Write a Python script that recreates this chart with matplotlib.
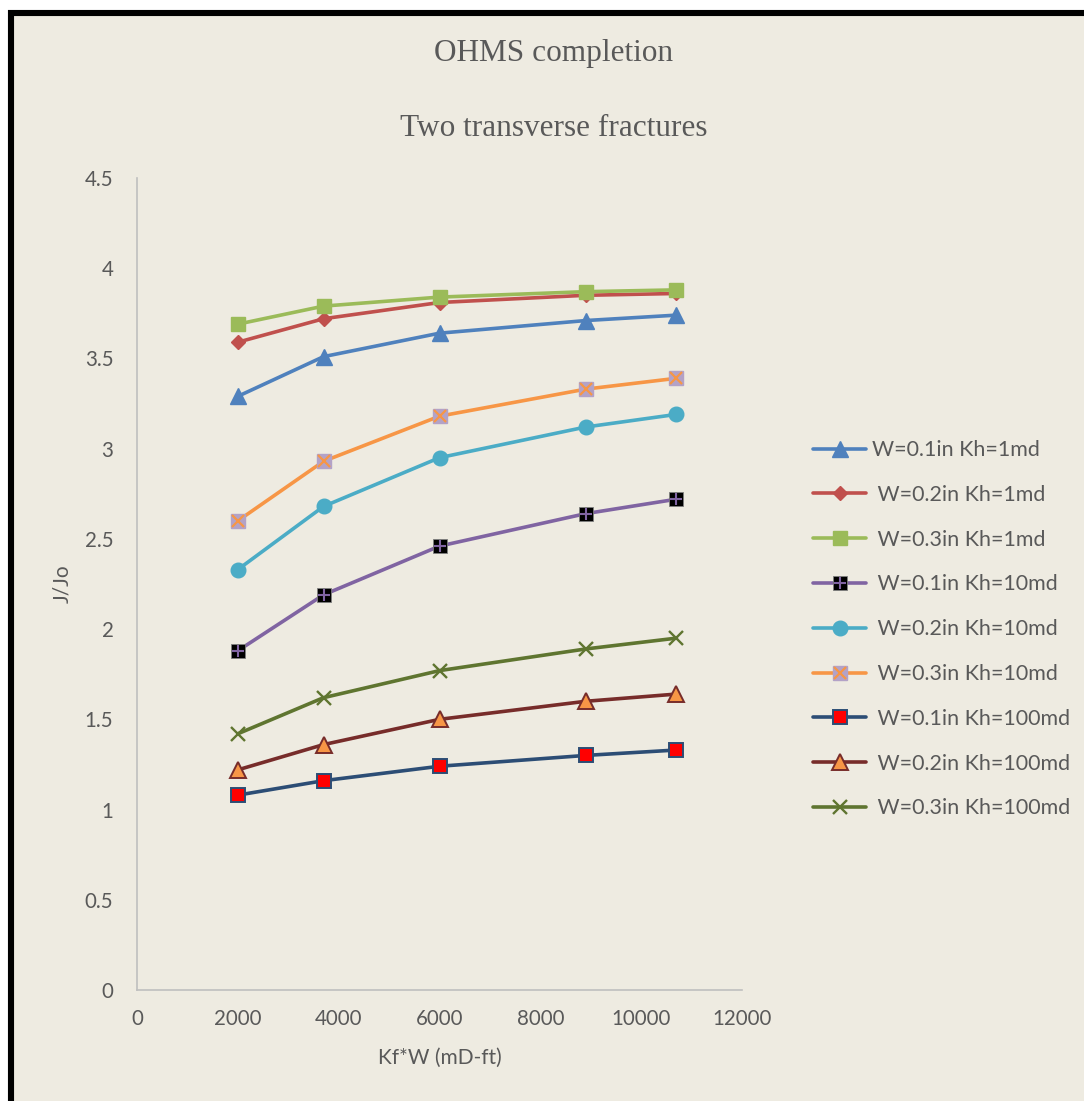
import matplotlib
matplotlib.use("Agg")
import matplotlib.pyplot as plt
from matplotlib.patches import Rectangle
from matplotlib.legend_handler import HandlerTuple

# Fracture conductivity Kf*W (mD-ft)
kfw = [2000, 3700, 6000, 8900, 10700]

# Productivity ratio J/Jo for each width / reservoir permeability case
j_w01_kh1 = [3.29, 3.51, 3.64, 3.71, 3.74]
j_w02_kh1 = [3.59, 3.72, 3.81, 3.85, 3.86]
j_w03_kh1 = [3.69, 3.79, 3.84, 3.87, 3.88]
j_w01_kh10 = [1.88, 2.19, 2.46, 2.64, 2.72]
j_w02_kh10 = [2.33, 2.68, 2.95, 3.12, 3.19]
j_w03_kh10 = [2.60, 2.93, 3.18, 3.33, 3.39]
j_w01_kh100 = [1.08, 1.16, 1.24, 1.30, 1.33]
j_w02_kh100 = [1.22, 1.36, 1.50, 1.60, 1.64]
j_w03_kh100 = [1.42, 1.62, 1.77, 1.89, 1.95]

series_labels = [
    "W=0.1in Kh=1md", " W=0.2in Kh=1md", " W=0.3in Kh=1md",
    " W=0.1in Kh=10md", " W=0.2in Kh=10md", " W=0.3in Kh=10md",
    " W=0.1in Kh=100md", " W=0.2in Kh=100md", " W=0.3in Kh=100md",
]
y_ticks = [0, 0.5, 1, 1.5, 2, 2.5, 3, 3.5, 4, 4.5]
y_tick_labels = ["0", "0.5", "1", "1.5", "2", "2.5", "3", "3.5", "4", "4.5"]
x_ticks = [0, 2000, 4000, 6000, 8000, 10000, 12000]
x_tick_labels = ["0", "2000", "4000", "6000", "8000", "10000", "12000"]

BG = "#EEEBE1"
TXT = "#595959"
W, H = 1084, 1101

fig = plt.figure(figsize=(W / 100, H / 100), dpi=100, facecolor="white")
fig.add_artist(Rectangle((11 / W, -0.1), 1.2, (1 - 13 / H) + 0.1,
                         transform=fig.transFigure, facecolor=BG,
                         edgecolor="black", linewidth=4.4, zorder=0))

ax = fig.add_axes([137 / W, 1 - 990 / H, (742 - 137) / W, (990 - 178) / H])
ax.set_facecolor("none")

lw = 2.6
handles = []

def series(y, color, marker, ms, mfc, mec, mew=1.0, zo=3):
    ln, = ax.plot(kfw, y, color=color, lw=lw, marker=marker, ms=ms,
                  mfc=mfc, mec=mec, mew=mew, zorder=zo, solid_capstyle="round")
    return ln

def overlay(y, marker, ms, color, mew, zo):
    ln, = ax.plot(kfw, y, ls="none", marker=marker, ms=ms, mfc="none",
                  mec=color, mew=mew, zorder=zo)
    return ln

handles.append(series(j_w01_kh1, "#4F81BD", "^", 11.0, "#4F81BD", "#4F81BD", zo=3))
handles.append(series(j_w02_kh1, "#C0504D", "D", 7.5, "#C0504D", "#C0504D", zo=4))
handles.append(series(j_w03_kh1, "#9BBB59", "s", 10.5, "#9BBB59", "#9BBB59", zo=5))

h4 = series(j_w01_kh10, "#8064A2", "s", 10.0, "black", "#7F7F7F", mew=0.6, zo=6)
h4b = overlay(j_w01_kh10, "+", 8.5, "#8064A2", 1.5, 6.1)
handles.append((h4, h4b))

handles.append(series(j_w02_kh10, "#4BACC6", "o", 10.5, "#4BACC6", "#4BACC6", zo=7))

h6 = series(j_w03_kh10, "#F79646", "s", 10.0, "#B3A2C7", "#B3A2C7", zo=8)
h6b = overlay(j_w03_kh10, "x", 9.0, "#F79646", 1.6, 8.1)
handles.append((h6, h6b))

handles.append(series(j_w01_kh100, "#2C4D75", "s", 10.0, "#FF0000", "#2C4D75", mew=1.4, zo=9))
handles.append(series(j_w02_kh100, "#772C2A", "^", 11.0, "#F79646", "#772C2A", mew=1.4, zo=10))
handles.append(series(j_w03_kh100, "#5F7530", "x", 10.0, "#5F7530", "#5F7530", mew=1.7, zo=11))

ax.set_xlim(0, 12000)
ax.set_ylim(0, 4.5)
ax.set_xticks(x_ticks)
ax.set_xticklabels(x_tick_labels)
ax.set_yticks(y_ticks)
ax.set_yticklabels(y_tick_labels)

font = ["Lato", "DejaVu Sans"]
for lab in ax.get_xticklabels() + ax.get_yticklabels():
    lab.set_family(font)
    lab.set_fontsize(14.8)
    lab.set_color(TXT)
ax.tick_params(axis="both", length=0)
ax.tick_params(axis="x", pad=14)
ax.tick_params(axis="y", pad=17)

for side in ("top", "right"):
    ax.spines[side].set_visible(False)
for side in ("left", "bottom"):
    ax.spines[side].set_color("#BFBFBF")
    ax.spines[side].set_linewidth(1.2)

fig.text(440 / W, 1 - 1058 / H, "Kf*W (mD-ft)", ha="center", va="center",
         family=font, fontsize=15, color=TXT)
fig.text(62 / W, 1 - 584 / H, "J/Jo", ha="center", va="center", rotation=90,
         family=font, fontsize=15, color=TXT)

fig.text(554 / W, 1 - 54 / H, "OHMS completion", ha="center", va="center",
         family=["Liberation Serif"], fontsize=22.5, color=TXT)
fig.text(554 / W, 1 - 129 / H, "Two transverse fractures", ha="center", va="center",
         family=["Liberation Serif"], fontsize=22.5, color=TXT)

leg = ax.legend(handles, series_labels, loc="upper left",
                bbox_to_anchor=(813 / W, 1 - 440 / H),
                bbox_transform=fig.transFigure, frameon=False,
                prop={"family": font, "size": 15.4},
                handlelength=2.5, handletextpad=0.28, labelspacing=1.16,
                borderpad=0, borderaxespad=0,
                handler_map={tuple: HandlerTuple(ndivide=1)})
for t in leg.get_texts():
    t.set_color(TXT)

fig.savefig("out.png", dpi=100, facecolor="white")
